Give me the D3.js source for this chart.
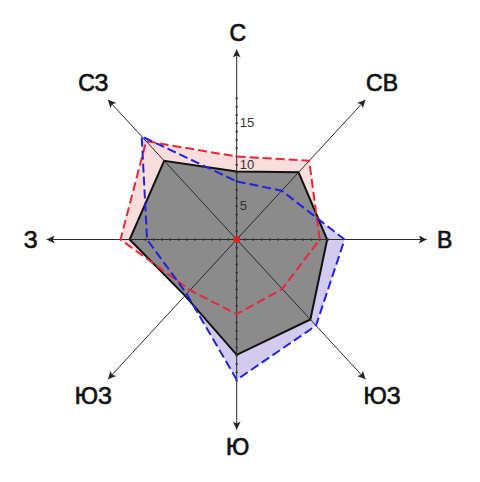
<!DOCTYPE html>
<html><head><meta charset="utf-8">
<script src="https://cdn.jsdelivr.net/npm/d3@7"></script>
<style>html,body{margin:0;padding:0;background:#fff;}</style>
</head><body>
<svg id="c" width="480" height="482"></svg>
<script>
const directions = ["С","СВ","В","ЮЗ","Ю","ЮЗ","З","СЗ"];
const seriesBlack = [8.2, 11.0, 10.9, 13.1, 13.9, 9.2, 12.9, 12.9];
const seriesRed   = [10.0, 12.9, 10.0, 8.1, 9.0, 8.3, 14.0, 16.1];
const seriesBlue  = [7.0, 8.0, 13.0, 14.1, 16.9, 8.9, 10.8, 16.9];
const tickLabels = [5, 10, 15];

const W = 480, H = 482, cx = 236.7, cy = 239.5;
const diag = 42.65;
const bearings = [0, diag, 90, 180 - diag, 180, 180 + diag, 270, 360 - diag];
const r = d3.scaleLinear().domain([0, 20]).range([0, 166]);
const svg = d3.select("#c");
const rad = d => d * Math.PI / 180;
const pt = (b, rr) => [cx + rr * Math.sin(rad(b)), cy - rr * Math.cos(rad(b))];

const line = d3.line();
function poly(vals) {
  return line(vals.map((v, i) => pt(bearings[i], r(v)))) + "Z";
}

// fills
svg.append("path").attr("d", poly(seriesBlue)).attr("fill", "#d3cbef");
svg.append("path").attr("d", poly(seriesRed)).attr("fill", "#f9dcdc");
svg.append("path").attr("d", poly(seriesBlack)).attr("fill", "#8b8b8b")
  .attr("stroke", "#111").attr("stroke-width", 2).attr("stroke-linejoin", "miter");

// axes
const defs = svg.append("defs");
defs.append("marker").attr("id", "arr").attr("viewBox", "0 0 10 10")
  .attr("refX", 10).attr("refY", 5).attr("markerWidth", 11).attr("markerHeight", 8)
  .attr("markerUnits", "userSpaceOnUse").attr("orient", "auto")
  .append("path").attr("d", "M0,0L10,5L0,10L2.5,5Z").attr("fill", "#222");

const axisLen = 190;
bearings.forEach(b => {
  const [x, y] = pt(b, axisLen);
  svg.append("line").attr("x1", cx).attr("y1", cy).attr("x2", x).attr("y2", y)
    .attr("stroke", "#2a2a2a").attr("stroke-width", 1).attr("marker-end", "url(#arr)");
});

// minor ticks on cardinal axes
[[0, 17], [180, 17], [90, 11], [270, 11]].forEach(([b, n]) => {
  d3.range(1, n + 1).forEach(t => {
    const [x, y] = pt(b, r(t));
    const horiz = (b === 90 || b === 270);
    svg.append("line")
      .attr("x1", horiz ? x : x - 1.2).attr("x2", horiz ? x : x + 1.2)
      .attr("y1", horiz ? y - 1.2 : y).attr("y2", horiz ? y + 1.2 : y)
      .attr("stroke", "#333").attr("stroke-width", 1.4);
  });
});

// dashed series lines
svg.append("path").attr("d", poly(seriesRed)).attr("fill", "none")
  .attr("stroke", "#e5283a").attr("stroke-width", 2).attr("stroke-dasharray", "9,4");
svg.append("path").attr("d", poly(seriesBlue)).attr("fill", "none")
  .attr("stroke", "#2222e0").attr("stroke-width", 2).attr("stroke-dasharray", "9,4");

// center dot
svg.append("circle").attr("cx", cx).attr("cy", cy).attr("r", 3.5).attr("fill", "#e02020");

// tick labels
tickLabels.forEach(t => {
  svg.append("text").attr("x", cx + 3).attr("y", cy - r(t) + 9)
    .attr("dominant-baseline", "middle").attr("font-family", "Liberation Sans, Arial, sans-serif")
    .attr("font-size", 13).attr("fill", "#333").text(t);
});

// direction labels
directions.forEach((d, i) => {
  const b = bearings[i];
  const lr = (b % 90 === 0) ? 207 : 213;
  const [x, y] = pt(b, lr);
  svg.append("text").attr("x", x + 1).attr("y", y).attr("text-anchor", "middle")
    .attr("dominant-baseline", "central").attr("font-family", "Liberation Sans, Arial, sans-serif")
    .attr("font-size", 23).attr("fill", "#111")
    .attr("stroke", "#111").attr("stroke-width", 0.7).text(d);
});
</script>
</body></html>
